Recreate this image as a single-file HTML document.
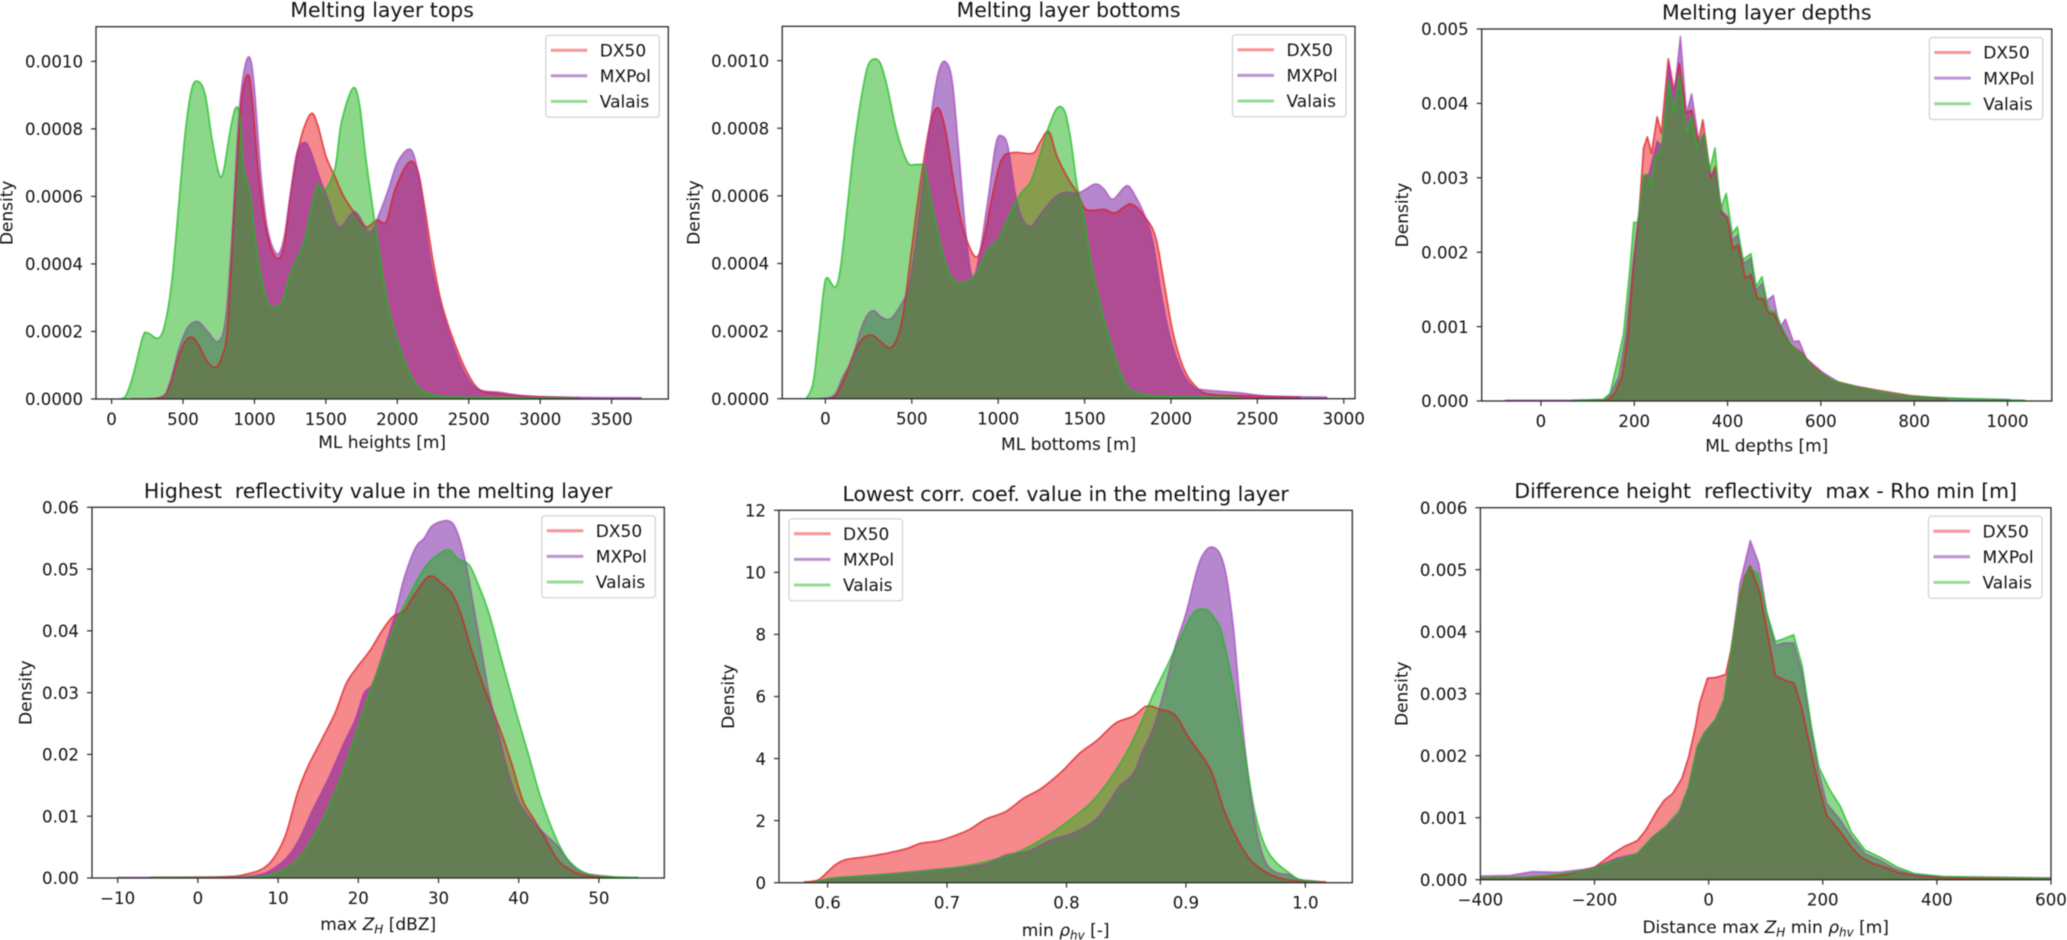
<!DOCTYPE html>
<html>
<head>
<meta charset="utf-8">
<title>Melting layer statistics</title>
<style>
html,body{margin:0;padding:0;background:#fff;width:2067px;height:940px;overflow:hidden}
svg{display:block;font-family:"DejaVu Sans","Liberation Sans",sans-serif;filter:blur(0.6px)}
text{fill:#111;white-space:pre}
</style>
</head>
<body>
<svg id="figure" width="2067" height="940" viewBox="0 0 2067 940" xmlns="http://www.w3.org/2000/svg"></svg>
<script>
// Panel 1: melting layer tops
const topsDx50X=[140,344,406,469,516,562,609,672,728,772,812,859,906,953,984,1031,1084,1147,1203,1250,1297,1344,1400,1444,1500,1562,1625,1703,1781,1859,1922,1984,2078,2141,2187,2250,2312,2406,2500,2578,2687,2969,3281];
const topsDx50Y=[0,0.000005,0.00004,0.000125,0.00017,0.000183,0.00016,0.00011,0.000094,0.000125,0.000214,0.00057,0.00087,0.00096,0.00089,0.00066,0.0005,0.00042,0.000446,0.0006,0.00072,0.0008,0.000846,0.00081,0.00072,0.00066,0.0006,0.00055,0.00051,0.00053,0.000525,0.00062,0.0007,0.00068,0.00058,0.00041,0.00028,0.00016,0.00007,0.000027,0.000017,0.000007,0.000003];
const topsMxpolX=[140,344,406,469,531,603,672,744,797,844,891,931,969,1000,1047,1094,1156,1203,1250,1297,1350,1391,1453,1516,1594,1703,1806,1875,1937,2000,2078,2125,2172,2234,2297,2375,2469,2562,2719,2906,3250,3710];
const topsMxpolY=[0,0.000005,0.000046,0.000145,0.00021,0.000229,0.0002,0.00017,0.000234,0.00049,0.00084,0.00098,0.00101,0.00092,0.00066,0.0005,0.00043,0.00047,0.0006,0.00073,0.00076,0.000737,0.00066,0.00059,0.00051,0.000555,0.000495,0.00055,0.00062,0.0007,0.00074,0.00071,0.0006,0.00041,0.00029,0.00018,0.00008,0.00003,0.00002,0.000009,0.000005,0.000004];
const topsValaisX=[60,100,150,219,256,328,375,422,469,516,562,609,656,703,750,781,828,866,897,922,969,1000,1047,1103,1194,1250,1344,1391,1444,1484,1562,1609,1688,1734,1781,1837,1875,1937,2031,2125,2219,2344,2656,3250];
const topsValaisY=[0,0.00001,0.00007,0.000185,0.000195,0.00018,0.000225,0.00035,0.00057,0.00079,0.00092,0.00094,0.0009,0.00077,0.00067,0.00067,0.00079,0.00086,0.00084,0.00069,0.00061,0.00049,0.00036,0.000278,0.000288,0.00037,0.00046,0.00055,0.000634,0.000614,0.00068,0.00082,0.00092,0.000876,0.00071,0.00054,0.00043,0.000273,0.000135,0.000046,0.000017,0.000007,0.000004,0.000002];
const topsXTicks=[0,500,1000,1500,2000,2500,3000,3500];
const topsXLabels=['0','500','1000','1500','2000','2500','3000','3500'];
const topsYTicks=[0,0.0002,0.0004,0.0006,0.0008,0.001];
const topsYLabels=['0.0000','0.0002','0.0004','0.0006','0.0008','0.0010'];

// Panel 2: melting layer bottoms
const bottomsDx50X=[10,62,114,165,217,269,320,372,411,450,501,553,605,651,695,747,799,868,915,966,1018,1083,1199,1238,1292,1341,1406,1457,1509,1612,1677,1767,1845,1910,1961,2013,2078,2155,2233,2465,2749];
const bottomsDx50Y=[0,0.00001,0.000065,0.000134,0.000178,0.000188,0.000169,0.00015,0.000174,0.00025,0.00045,0.00065,0.00081,0.00086,0.000795,0.00063,0.0005,0.00042,0.00047,0.0006,0.000706,0.000728,0.000726,0.000755,0.00079,0.000716,0.00065,0.00061,0.00056,0.00056,0.00055,0.000576,0.00054,0.00048,0.00034,0.000193,0.000085,0.00003,0.000013,0.000008,0.000005];
const bottomsMxpolX=[-34,49,101,152,204,243,282,320,372,424,475,514,566,618,656,695,734,773,811,850,889,941,987,1023,1057,1096,1134,1186,1251,1315,1380,1470,1561,1612,1664,1742,1793,1858,1897,1948,2000,2065,2129,2194,2388,2569,2904];
const bottomsMxpolY=[0,0.00001,0.000065,0.000114,0.000203,0.000248,0.00026,0.000243,0.000235,0.000267,0.00032,0.00043,0.00065,0.00086,0.00097,0.000997,0.00094,0.000726,0.0005,0.00036,0.00042,0.00059,0.000755,0.000777,0.000745,0.000617,0.00054,0.00051,0.00055,0.00059,0.00061,0.00061,0.000635,0.00062,0.00059,0.00063,0.0006,0.00053,0.00046,0.0003,0.000174,0.00008,0.000035,0.000026,0.000018,0.000008,0.000005];
const bottomsValaisX=[-111,-72,-41,-10,10,57,88,127,165,204,243,282,320,359,411,475,527,574,599,643,695,747,811,876,941,1005,1070,1134,1186,1238,1289,1341,1385,1419,1457,1496,1535,1599,1664,1716,1767,1871,2000,2388];
const bottomsValaisY=[0,0.000045,0.000174,0.00032,0.000358,0.00033,0.00039,0.000568,0.000745,0.00088,0.00098,0.001005,0.00099,0.00092,0.000795,0.0007,0.000693,0.000686,0.000617,0.00051,0.0004,0.00035,0.000344,0.000376,0.00044,0.000474,0.00055,0.00061,0.00064,0.000716,0.0008,0.00086,0.00085,0.00077,0.00063,0.00054,0.00041,0.00026,0.000144,0.000065,0.000026,0.00001,0.000006,0.000004];
const bottomsXTicks=[0,500,1000,1500,2000,2500,3000];
const bottomsXLabels=['0','500','1000','1500','2000','2500','3000'];
const bottomsYTicks=[0,0.0002,0.0004,0.0006,0.0008,0.001];
const bottomsYLabels=['0.0000','0.0002','0.0004','0.0006','0.0008','0.0010'];

// Panel 3: melting layer depths
const depthsDx50X=[86,143,158,174,187,201,210,220,228,237,249,258,273,285,297,311,323,337,347,364,373,388,400,411,423,438,450,464,477,488,500,517,536,560,584,622,679,727,794,871];
const depthsDx50Y=[0,0.00001,0.0001,0.00033,0.0009,0.002,0.0025,0.0034,0.00355,0.00333,0.00382,0.0036,0.0046,0.00418,0.00454,0.00387,0.00391,0.00346,0.00378,0.003,0.00315,0.00252,0.00246,0.00205,0.0021,0.00165,0.0017,0.00138,0.00137,0.00118,0.00117,0.00095,0.00075,0.00064,0.00046,0.00028,0.00019,0.00014,0.00007,0.00003];
const depthsMxpolX=[-77,67,134,148,167,182,196,210,220,232,239,249,260,274,285,299,312,323,340,349,364,373,388,400,411,421,435,450,461,474,483,498,512,524,541,553,569,603,641,699,756,871,1005];
const depthsMxpolY=[0.00001,0.00001,0.00002,0.00008,0.00033,0.0009,0.0018,0.0025,0.003,0.00306,0.00324,0.00349,0.00342,0.00454,0.00409,0.0049,0.00387,0.00413,0.00342,0.0036,0.00302,0.0031,0.00255,0.00248,0.00216,0.00223,0.00185,0.00192,0.00149,0.00158,0.00134,0.00142,0.00098,0.0011,0.0008,0.00081,0.00057,0.00039,0.00024,0.00017,0.00008,0.000035,0.00002];
const depthsValaisX=[67,134,148,163,177,191,199,207,212,220,230,237,244,254,260,274,285,297,312,323,335,349,362,373,385,397,410,421,433,450,461,474,488,502,517,536,560,584,622,679,727,794,919,1038];
const depthsValaisY=[0.00001,0.00002,0.0001,0.0005,0.0009,0.0018,0.0024,0.0024,0.0026,0.00304,0.00304,0.00288,0.00328,0.00335,0.0035,0.0043,0.00389,0.00438,0.0036,0.00384,0.00342,0.0036,0.0031,0.0034,0.00257,0.00279,0.00225,0.00234,0.0019,0.00198,0.00154,0.00167,0.00122,0.0012,0.00098,0.00075,0.00062,0.00044,0.00028,0.00018,0.000125,0.00006,0.00003,0.00001];
const depthsXTicks=[0,200,400,600,800,1000];
const depthsXLabels=['0','200','400','600','800','1000'];
const depthsYTicks=[0,0.001,0.002,0.003,0.004,0.005];
const depthsYLabels=['0.000','0.001','0.002','0.003','0.004','0.005'];

// Panel 4: highest reflectivity
const zhDx50X=[-6,3.2,6,8.2,9.6,11,12.4,13.7,15.4,17.1,18.5,19.9,21.5,22.9,24.3,25.7,26.8,28.8,30.4,31.8,32.9,34,35.2,36.6,38,39.1,40.5,41.8,43.2,44.9,46.9,48.8,52.1];
const zhDx50Y=[0.0001,0.0002,0.0006,0.0016,0.0035,0.0072,0.0137,0.018,0.0223,0.0267,0.0315,0.0342,0.0369,0.0399,0.0423,0.0432,0.0455,0.0488,0.0477,0.0458,0.0423,0.0374,0.0326,0.0277,0.0229,0.0186,0.0126,0.0097,0.0067,0.0029,0.001,0.0003,0.0001];
const zhMxpolX=[-10,3.2,6.5,8.7,11,12.6,14.3,16.2,18.2,19.6,20.7,21.8,23.2,24.6,25.7,27.1,28.2,29.3,31.3,32.4,33.5,34.3,35.2,36.3,37.4,38.5,39.9,41.6,43.2,44.9,46.6,48.2,51.6];
const zhMxpolY=[0.0001,0.0001,0.0003,0.001,0.0032,0.0062,0.011,0.0159,0.0218,0.0256,0.0299,0.0315,0.0369,0.0428,0.0485,0.0534,0.055,0.0571,0.0578,0.0558,0.0504,0.0445,0.038,0.0299,0.024,0.018,0.0126,0.0094,0.0072,0.0051,0.0021,0.0008,0.0002];
const zhValaisX=[-6,6.5,9.8,12.1,14.3,16.5,18.5,20.4,22.6,24.9,26.5,28.2,29.9,31.3,32.4,33.8,34.9,36.3,38,39.6,41.3,42.7,44.4,46,48,50.2,54.9];
const zhValaisY=[0.0001,0.0001,0.0009,0.0026,0.0064,0.0121,0.0186,0.0261,0.0342,0.0418,0.0461,0.0501,0.0523,0.0531,0.0517,0.0507,0.0477,0.0428,0.0347,0.0272,0.0196,0.0132,0.0072,0.0032,0.001,0.0003,0.0001];
const zhXTicks=[-10,0,10,20,30,40,50];
const zhXLabels=['\u221210','0','10','20','30','40','50'];
const zhYTicks=[0,0.01,0.02,0.03,0.04,0.05,0.06];
const zhYLabels=['0.00','0.01','0.02','0.03','0.04','0.05','0.06'];

// Panel 5: lowest correlation coefficient
const rhoDx50X=[0.58,0.592,0.6,0.607,0.616,0.633,0.652,0.667,0.678,0.693,0.708,0.719,0.732,0.749,0.764,0.779,0.796,0.811,0.826,0.841,0.856,0.867,0.878,0.891,0.902,0.916,0.923,0.932,0.942,0.953,0.964,0.977,0.992,1.017];
const rhoDx50Y=[0.02,0.09,0.35,0.59,0.75,0.84,0.97,1.11,1.27,1.35,1.54,1.72,2.04,2.29,2.72,3.04,3.58,4.17,4.6,5.14,5.37,5.69,5.59,5.4,4.7,3.95,3.42,2.34,1.48,0.78,0.41,0.17,0.06,0.03];
const rhoMxpolX=[0.588,0.603,0.626,0.656,0.686,0.712,0.734,0.749,0.768,0.787,0.805,0.824,0.835,0.844,0.856,0.863,0.873,0.882,0.891,0.9,0.91,0.917,0.923,0.929,0.934,0.94,0.945,0.951,0.958,0.966,0.975,0.987,0.994,1.011];
const rhoMxpolY=[0,0.13,0.21,0.3,0.41,0.49,0.62,0.89,1.02,1.38,1.59,2.02,2.56,3.09,3.52,4.17,5.03,6.21,7.61,8.68,10.18,10.72,10.81,10.56,9.86,8.14,5.99,3.85,1.91,0.73,0.35,0.25,0.11,0.04];
const rhoValaisX=[0.587,0.603,0.626,0.656,0.686,0.716,0.738,0.76,0.783,0.801,0.82,0.835,0.85,0.861,0.873,0.884,0.895,0.906,0.916,0.923,0.93,0.938,0.944,0.951,0.958,0.966,0.975,0.987,0.996,1.011];
const rhoValaisY=[0,0.14,0.21,0.28,0.39,0.54,0.73,1,1.48,1.97,2.56,3.26,4.17,5.03,6.1,6.96,7.87,8.68,8.81,8.57,8.04,6.64,5.35,3.74,2.23,1.21,0.68,0.3,0.09,0.04];
const rhoXTicks=[0.6,0.7,0.8,0.9,1.0];
const rhoXLabels=['0.6','0.7','0.8','0.9','1.0'];
const rhoYTicks=[0,2,4,6,8,10,12];
const rhoYLabels=['0','2','4','6','8','10','12'];

// Panel 6: height difference
const diffDx50X=[-400,-286,-246,-200,-168,-149,-125,-110,-90,-78,-63,-47,-35,-23,-16,-2,12,30,39,51,63,73,90,102,117,133,150,164,180,192,207,231,250,266,286,309,333,372,419,600];
const diffDx50Y=[0.00003,0.00004,0.00009,0.0002,0.00042,0.00053,0.00063,0.0008,0.00112,0.00128,0.00139,0.00163,0.00198,0.00247,0.00284,0.00325,0.00326,0.00331,0.0037,0.0044,0.00489,0.00506,0.00462,0.00403,0.00329,0.00322,0.00317,0.00274,0.00204,0.00155,0.00104,0.00077,0.00053,0.00037,0.00027,0.0002,0.00011,0.00006,0.00003,0.00002];
const diffMxpolX=[-400,-348,-309,-262,-207,-184,-160,-125,-98,-74,-51,-35,-20,-8,12,27,39,55,73,88,102,117,133,149,164,180,192,207,231,250,274,301,325,356,411,600];
const diffMxpolY=[0.00006,0.00007,0.00013,0.00012,0.00018,0.00026,0.00035,0.00042,0.00069,0.00085,0.00107,0.0015,0.00214,0.00236,0.00258,0.0029,0.00365,0.00478,0.00547,0.0051,0.0043,0.00378,0.00382,0.00382,0.00333,0.00241,0.00177,0.00123,0.00096,0.00069,0.00042,0.00031,0.00018,0.00009,0.00005,0.00003];
const diffValaisX=[-400,-325,-262,-207,-168,-125,-98,-74,-51,-35,-20,-8,12,27,39,55,70,86,102,117,133,149,164,180,193,211,231,250,274,301,329,360,411,600];
const diffValaisY=[0.00003,0.00004,0.00009,0.00016,0.00029,0.00042,0.00069,0.00087,0.00112,0.0015,0.00214,0.00236,0.00258,0.0029,0.00365,0.00462,0.00504,0.00494,0.0043,0.00384,0.00389,0.00395,0.00344,0.00247,0.00182,0.00147,0.00118,0.00077,0.00048,0.00036,0.00021,0.0001,0.00005,0.00002];
const diffXTicks=[-400,-200,0,200,400,600];
const diffXLabels=['\u2212400','\u2212200','0','200','400','600'];
const diffYTicks=[0,0.001,0.002,0.003,0.004,0.005,0.006];
const diffYLabels=['0.000','0.001','0.002','0.003','0.004','0.005','0.006'];

const seriesNames=['DX50','MXPol','Valais'];
const seriesColors=['rgb(235,20,25)','rgb(107,15,155)','rgb(25,175,20)'];
const lineColors=['rgb(225,25,30)','rgb(165,60,185)','rgb(25,190,30)'];
const lineAlphas=[0.65,0.5,0.65];

const panels=[
 {key:'tops',box:[96,668.3,26.7,399],xlim:[-109,3897],ylim:[0,0.0011026],xT:topsXTicks,xL:topsXLabels,yT:topsYTicks,yL:topsYLabels,
  title:'Melting layer tops',xlabel:[['ML heights [m]']],xlabelY:448,ylabelX:6.7,smooth:true,
  data:[[topsDx50X,topsDx50Y],[topsMxpolX,topsMxpolY],[topsValaisX,topsValaisY]]},
 {key:'bottoms',box:[782.2,1355,26.3,398.7],xlim:[-250,3065],ylim:[0,0.0011016],xT:bottomsXTicks,xL:bottomsXLabels,yT:bottomsYTicks,yL:bottomsYLabels,
  title:'Melting layer bottoms',xlabel:[['ML bottoms [m]']],xlabelY:450,ylabelX:693.4,smooth:true,
  data:[[bottomsDx50X,bottomsDx50Y],[bottomsMxpolX,bottomsMxpolY],[bottomsValaisX,bottomsValaisY]]},
 {key:'depths',box:[1481.7,2051.8,29,401],xlim:[-127,1095],ylim:[0,0.005],xT:depthsXTicks,xL:depthsXLabels,yT:depthsYTicks,yL:depthsYLabels,
  title:'Melting layer depths',xlabel:[['ML depths [m]']],xlabelY:451.7,ylabelX:1401.8,smooth:false,
  data:[[depthsDx50X,depthsDx50Y],[depthsMxpolX,depthsMxpolY],[depthsValaisX,depthsValaisY]]},
 {key:'max-zh',box:[92,664.3,507.3,878],xlim:[-13.2,58.15],ylim:[0,0.06],xT:zhXTicks,xL:zhXLabels,yT:zhYTicks,yL:zhYLabels,
  title:'Highest  reflectivity value in the melting layer',xlabel:[['max '],['Z','i'],['H','s'],[' [dBZ]']],xlabelY:930,ylabelX:25.4,smooth:true,
  data:[[zhDx50X,zhDx50Y],[zhMxpolX,zhMxpolY],[zhValaisX,zhValaisY]]},
 {key:'min-rho',box:[779,1352.3,510.3,882.7],xlim:[0.5593,1.0393],ylim:[0,12],xT:rhoXTicks,xL:rhoXLabels,yT:rhoYTicks,yL:rhoYLabels,
  title:'Lowest corr. coef. value in the melting layer',xlabel:[['min '],['\u03c1','i'],['hv','s'],[' [-]']],xlabelY:936,ylabelX:728,smooth:true,legendLeft:true,
  data:[[rhoDx50X,rhoDx50Y],[rhoMxpolX,rhoMxpolY],[rhoValaisX,rhoValaisY]]},
 {key:'difference',box:[1480.4,2051,507.7,879.7],xlim:[-400,600],ylim:[0,0.006],xT:diffXTicks,xL:diffXLabels,yT:diffYTicks,yL:diffYLabels,
  title:'Difference height  reflectivity  max - Rho min [m]',xlabel:[['Distance max '],['Z','i'],['H','s'],[' min '],['\u03c1','i'],['hv','s'],[' [m]']],xlabelY:933,ylabelX:1401.4,smooth:false,
  data:[[diffDx50X,diffDx50Y],[diffMxpolX,diffMxpolY],[diffValaisX,diffValaisY]]}
];

const NS='http://www.w3.org/2000/svg';
const fig=document.getElementById('figure');
function mk(tag,attrs,parent){
  const el=document.createElementNS(NS,tag);
  for(const k in attrs){el.setAttribute(k,attrs[k]);}
  parent.appendChild(el);
  return el;
}
function smoothPath(pts){
  let d='M'+pts[0][0].toFixed(2)+' '+pts[0][1].toFixed(2);
  for(let i=0;i<pts.length-1;i++){
    const p0=pts[Math.max(0,i-1)],p1=pts[i],p2=pts[i+1],p3=pts[Math.min(pts.length-1,i+2)];
    const c1x=p1[0]+(p2[0]-p0[0])/6,c1y=p1[1]+(p2[1]-p0[1])/6;
    const c2x=p2[0]-(p3[0]-p1[0])/6,c2y=p2[1]-(p3[1]-p1[1])/6;
    d+='C'+c1x.toFixed(2)+' '+c1y.toFixed(2)+' '+c2x.toFixed(2)+' '+c2y.toFixed(2)+' '+p2[0].toFixed(2)+' '+p2[1].toFixed(2);
  }
  return d;
}
function linePath(pts){
  return 'M'+pts.map(p=>p[0].toFixed(2)+' '+p[1].toFixed(2)).join('L');
}

panels.forEach(function(p){
  const L=p.box[0],R=p.box[1],T=p.box[2],B=p.box[3];
  const sx=v=>L+(v-p.xlim[0])/(p.xlim[1]-p.xlim[0])*(R-L);
  const sy=v=>B-(v-p.ylim[0])/(p.ylim[1]-p.ylim[0])*(B-T);
  const g=mk('g',{},fig);
  
  
  const clipId='clip-'+p.key;
  const defs=mk('defs',{},g);
  const cp=mk('clipPath',{id:clipId},defs);
  mk('rect',{x:L,y:T,width:R-L,height:B-T},cp);

  // series: all filled areas first, then all outlines on top
  const tops=p.data.map(function(s){
    const pts=s[0].map((x,j)=>[sx(x),sy(s[1][j])]);
    return p.smooth?smoothPath(pts):linePath(pts);
  });
  p.data.forEach(function(s,i){
    const fillD=tops[i]+'L'+sx(s[0][s[0].length-1]).toFixed(2)+' '+B+'L'+sx(s[0][0]).toFixed(2)+' '+B+'Z';
    const area=mk('path',{d:fillD,fill:seriesColors[i],'fill-opacity':0.5,stroke:seriesColors[i],'stroke-opacity':0.25,'stroke-width':0.8,'clip-path':'url(#'+clipId+')'},g);
    
    
  });
  p.data.forEach(function(s,i){
    const line=mk('path',{d:tops[i],fill:'none',stroke:lineColors[i],'stroke-opacity':lineAlphas[i],'stroke-width':1.8,'stroke-linejoin':'round','clip-path':'url(#'+clipId+')'},g);
    
    
  });

  // frame
  const frame=mk('rect',{x:L,y:T,width:R-L,height:B-T,fill:'none',stroke:'#2a2a2a','stroke-width':1.3},g);
  
  

  // ticks
  p.xT.forEach(function(v,i){
    const x=sx(v);
    const t=mk('line',{x1:x,x2:x,y1:B,y2:B+5,stroke:'#2a2a2a','stroke-width':1.2},g);
    
    
    const tx=mk('text',{x:x,y:B+26,'text-anchor':'middle','font-size':16.6},g);
    tx.textContent=p.xL[i];
    
    
  });
  p.yT.forEach(function(v,i){
    const y=sy(v);
    const t=mk('line',{x1:L-5,x2:L,y1:y,y2:y,stroke:'#2a2a2a','stroke-width':1.2},g);
    
    
    const tx=mk('text',{x:L-13,y:y+6.2,'text-anchor':'end','font-size':16.6},g);
    tx.textContent=p.yL[i];
    
    
  });

  // title
  const title=mk('text',{x:(L+R)/2,y:T-9.5,'text-anchor':'middle','font-size':20.4},g);
  title.textContent=p.title;
  
  

  // x label
  const xl=mk('text',{x:(L+R)/2,y:p.xlabelY,'text-anchor':'middle','font-size':17},g);
  
  
  let pendingDy=0;
  p.xlabel.forEach(function(seg){
    const ts=mk('tspan',{},xl);
    ts.textContent=seg[0];
    let dy=pendingDy;pendingDy=0;
    if(seg[1]==='i'){ts.setAttribute('font-style','italic');}
    if(seg[1]==='s'){ts.setAttribute('font-style','italic');ts.setAttribute('font-size','12');dy+=3.5;pendingDy=-3.5;}
    if(dy){ts.setAttribute('dy',dy);}
  });

  // y label
  const cy=(T+B)/2, lx=p.ylabelX+6;
  const yl=mk('text',{x:lx,y:cy,'text-anchor':'middle','font-size':17,transform:'rotate(-90 '+lx+' '+cy+')'},g);
  yl.textContent='Density';
  
  

  // legend
  const lw=113.5,lh=82;
  const lgX=p.legendLeft?L+10:R-9-lw, lgY=T+8.5;
  const lg=mk('g',{},g);
  
  
  mk('rect',{x:lgX,y:lgY,width:lw,height:lh,rx:3,ry:3,fill:'#fff','fill-opacity':0.8,stroke:'#d0d0d0','stroke-width':1.2},lg);
  seriesNames.forEach(function(name,i){
    const ly=lgY+15+i*25.6;
    const ll=mk('line',{x1:lgX+5,x2:lgX+41.5,y1:ly,y2:ly,stroke:seriesColors[i],'stroke-opacity':0.45,'stroke-width':3},lg);
    
    
    const lt=mk('text',{x:lgX+54,y:ly+6.2,'font-size':17},lg);
    lt.textContent=name;
    
    
  });
});
</script>
</body>
</html>
